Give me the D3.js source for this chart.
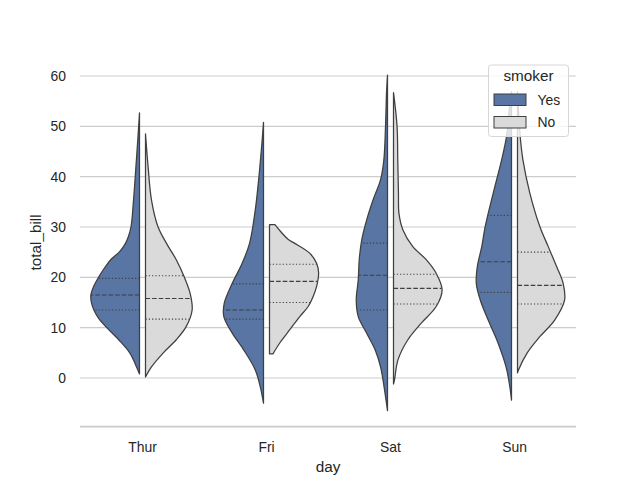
<!DOCTYPE html>
<html><head><meta charset="utf-8">
<script src="https://cdn.jsdelivr.net/npm/d3@7"></script>
<style>html,body{margin:0;padding:0;background:#fff;}svg{display:block;font-family:"Liberation Sans",Arial,sans-serif;}</style>
</head><body>
<script>
const days = ["Thur", "Fri", "Sat", "Sun"];
const smokers = ["Yes", "No"];
const yTicks = [0, 10, 20, 30, 40, 50, 60];

// density profiles: [total_bill, relative density]
const thurYes = [[52.7,0],[48.6,0.026],[42,0.072],[35.4,0.12],[30.1,0.17],[28.2,0.22],[26.8,0.28],[25.1,0.40],[23.5,0.58],[21.8,0.71],[20.1,0.82],[18.3,0.92],[16.5,0.98],[15,0.97],[13.5,0.92],[11.8,0.82],[10.2,0.68],[7.6,0.42],[4.9,0.19],[2.2,0.06],[0.8,0]];
const thurNo = [[48.5,0],[42,0.052],[35.4,0.12],[30.1,0.25],[26.8,0.42],[23.5,0.62],[20.1,0.78],[16.8,0.9],[13.5,0.94],[10.2,0.82],[7.6,0.62],[4.9,0.35],[2.2,0.12],[0.2,0]];
const friYes = [[50.8,0],[46.7,0.032],[40,0.092],[33.4,0.166],[26.8,0.28],[22.8,0.43],[18.8,0.63],[14.9,0.79],[12.2,0.80],[8.9,0.63],[5.6,0.40],[1.6,0.166],[-1.7,0.066],[-5.0,0]];
const friNo = [[30.46,0.11],[28.8,0.25],[27.5,0.38],[26.8,0.50],[24.8,0.81],[22.8,0.95],[20.9,0.99],[18.2,0.95],[16.2,0.88],[14.2,0.78],[12.2,0.61],[9.6,0.41],[7.0,0.21],[4.8,0.07]];
const satYes = [[60.2,0],[56.6,0.02],[50,0.04],[43.3,0.074],[39.4,0.14],[35.4,0.29],[31.4,0.42],[27.4,0.52],[23.5,0.57],[19.5,0.59],[15.5,0.63],[12.2,0.59],[8.9,0.42],[5.6,0.25],[2.2,0.14],[-1.7,0.07],[-6.5,0]];
const satNo = [[56.7,0],[50,0.072],[43.3,0.086],[36.7,0.1],[32.7,0.11],[29.4,0.19],[26.1,0.39],[23.5,0.66],[20.8,0.86],[17.5,0.98],[14.2,0.86],[10.9,0.56],[7.6,0.29],[3.6,0.09],[-0.4,0.02],[-1.2,0]];
const sunYes = [[56.9,0],[53,0.05],[48,0.10],[43.3,0.2],[36.7,0.37],[30.1,0.53],[26.1,0.6],[22.1,0.69],[18.8,0.71],[15.5,0.63],[11.5,0.47],[6.9,0.27],[2.2,0.11],[-1.7,0.034],[-4.4,0]];
const sunNo = [[56.9,0],[50,0.04],[48,0.054],[43.3,0.11],[36.7,0.25],[30.1,0.45],[26.1,0.62],[22.1,0.79],[18.8,0.92],[15.5,0.95],[11.5,0.75],[8.2,0.45],[4.9,0.19],[1.6,0.02],[1.0,0]];

// quartiles [Q1, median, Q3] per day
const yesQuartiles = [[13.5,16.5,19.8],[11.7,13.5,18.7],[13.5,20.4,26.8],[17.0,23.1,32.3]];
const noQuartiles = [[11.7,15.8,20.3],[15.0,19.2,22.6],[14.7,17.8,20.6],[14.7,18.4,25.0]];

const profiles = {Yes: [thurYes, friYes, satYes, sunYes], No: [thurNo, friNo, satNo, sunNo]};
const quartiles = {Yes: yesQuartiles, No: noQuartiles};
const colors = {Yes: "#5875a3", No: "#dadada"};

const W = 640, H = 480;
const mLeft = 80, mRight = 576, mTop = 57.6, mBottom = 427.2;
const svg = d3.select("body").append("svg").attr("width", W).attr("height", H);

const x = d3.scaleLinear().domain([-0.5, 3.5]).range([mLeft + 0.5, mRight + 0.5]);
const y = d3.scaleLinear().domain([-9.78, 63.66]).range([mBottom, mTop]);
const w = d3.scaleLinear().domain([0, 1]).range([0, 0.4 * (x(1) - x(0))]);
const gap = 3;
const ink = "#3f3f3f";

// grid
svg.append("g").selectAll("line").data(yTicks).join("line")
  .attr("x1", mLeft).attr("x2", mRight)
  .attr("y1", d => y(d)).attr("y2", d => y(d))
  .attr("stroke", "#cccccc").attr("stroke-width", 1.1);

// y tick labels
svg.append("g").selectAll("text").data(yTicks).join("text")
  .attr("x", 66).attr("y", d => y(d)).attr("dy", "0.35em")
  .attr("text-anchor", "end").attr("font-size", 13.9).attr("fill", "#262626")
  .text(d => d);

// x tick labels
svg.append("g").selectAll("text").data(days).join("text")
  .attr("x", (d, i) => x(i)).attr("y", 451.5)
  .attr("text-anchor", "middle").attr("font-size", 13.9).attr("fill", "#262626")
  .text(d => d);

svg.append("text").attr("x", (mLeft + mRight) / 2).attr("y", 471.5)
  .attr("text-anchor", "middle").attr("font-size", 15.3).attr("fill", "#262626").text("day");
svg.append("text").attr("transform", `translate(40.5,${(mTop + mBottom) / 2}) rotate(-90)`)
  .attr("text-anchor", "middle").attr("font-size", 15.3).attr("fill", "#262626").text("total_bill");

function widthAt(prof, v) {
  for (let k = 0; k < prof.length - 1; k++) {
    const a = prof[k], b = prof[k + 1];
    if (v <= a[0] && v >= b[0]) {
      const t = (a[0] - v) / (a[0] - b[0]);
      return a[1] + t * (b[1] - a[1]);
    }
  }
  return 0;
}

const violins = svg.append("g");
smokers.forEach(s => {
  const sign = s === "Yes" ? -1 : 1;
  days.forEach((d, i) => {
    const prof = profiles[s][i];
    const edge = x(i) + sign * gap;
    const area = d3.area()
      .y(p => y(p[0]))
      .x0(edge)
      .x1(p => edge + sign * w(p[1]))
      .curve(d3.curveCatmullRom.alpha(0.5));
    violins.append("path").attr("d", area(prof))
      .attr("fill", colors[s]).attr("stroke", ink).attr("stroke-width", 1.25)
      .attr("stroke-linejoin", "round");
    quartiles[s][i].forEach((q, k) => {
      const ww = w(widthAt(prof, q));
      violins.append("line")
        .attr("x1", edge).attr("x2", edge + sign * ww)
        .attr("y1", y(q)).attr("y2", y(q))
        .attr("stroke", ink).attr("stroke-width", 1.1)
        .attr("stroke-dasharray", k === 1 ? "4.6,2" : "1.2,2.1");
    });
  });
});

// bottom spine
svg.append("line").attr("x1", mLeft).attr("x2", mRight).attr("y1", mBottom - 0.5).attr("y2", mBottom - 0.5)
  .attr("stroke", "#cccccc").attr("stroke-width", 1.7);

// legend
const lg = svg.append("g");
lg.append("rect").attr("x", 488.5).attr("y", 65).attr("width", 80).attr("height", 71.5)
  .attr("rx", 3).attr("fill", "#ffffff").attr("fill-opacity", 0.8).attr("stroke", "#d6d6d6").attr("stroke-width", 1);
lg.append("text").attr("x", 528.5).attr("y", 81).attr("text-anchor", "middle")
  .attr("font-size", 15.3).attr("fill", "#262626").text("smoker");
smokers.forEach((s, k) => {
  const yy = 94 + k * 22.5;
  lg.append("rect").attr("x", 494).attr("y", yy).attr("width", 32).attr("height", 11.5)
    .attr("fill", colors[s]).attr("stroke", ink).attr("stroke-width", 1);
  lg.append("text").attr("x", 537.5).attr("y", yy + 5.8).attr("dy", "0.35em")
    .attr("font-size", 13.9).attr("fill", "#262626").text(s);
});
</script>
</body></html>
